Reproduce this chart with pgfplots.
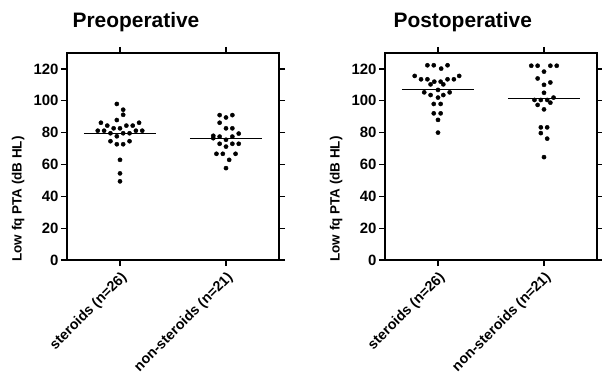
\documentclass[border=0pt]{standalone}
\usepackage{fontspec}
\setmainfont{Liberation Sans}
\usepackage{pgfplots}
\pgfplotsset{compat=1.18}
\pgfplotsset{
 dotaxis/.style={
  scale only axis, width=212bp, height=207bp,
  xmin=0.5, xmax=2.5, ymin=0, ymax=130,
  xtick={1,2}, xticklabels={steroids (n=26), non-steroids (n=21)},
  ytick={0,20,...,120},
  tick align=outside, xtick pos=both, ytick pos=both,
  xticklabel pos=lower, yticklabel pos=left,
  major tick length=6bp,
  axis line style={line width=1.3bp},
  every tick/.style={black, line width=1.3bp},
  /pgf/number format/assume math mode=true,
  y tick label style={font=\fontsize{15}{17}\selectfont\bfseries, xshift=1bp},
  x tick label style={rotate=45, anchor=north east, font=\fontsize{14.3}{16}\selectfont\bfseries},
  ylabel={Low fq PTA (dB HL)},
  ylabel style={at={(axis description cs:-0.23,0.295)}, anchor=center, font=\fontsize{13.5}{15}\selectfont\bfseries},
  title style={anchor=base west, font=\fontsize{21}{24}\selectfont\bfseries},
  clip=false,
 },
 dots/.style={only marks, mark=*, mark size=2.1bp, black},
 mline/.style={no markers, black, line width=1.5bp},
}
\begin{document}
\begin{tikzpicture}
\path[use as bounding box] (0,0) rectangle (602bp,388bp);
\begin{axis}[dotaxis, at={(67bp,128bp)}, anchor=south west,
  title={Preoperative}, title style={at={(axis description cs:0.01,1.095)}}]
\addplot[dots] coordinates {
(0.97,98) (1.03,94.4) (1.03,91.2) (0.97,87.9) (0.82,86.2) (1.18,86.2)
(0.88,84.4) (1.06,84.4) (1.12,84.4) (0.94,82.7) (1.0,82.7)
(0.79,81.2) (0.85,81.2) (1.15,81.2) (1.21,81.2)
(0.91,79.6) (1.03,79.6) (1.09,79.6) (0.97,77.7)
(0.91,74.6) (1.09,74.6) (0.97,72.7) (1.03,72.7)
(1.0,62.9) (1.0,54.4) (1.0,49.4)};
\addplot[dots] coordinates {
(1.94,91) (2.06,91) (2.0,89.5) (1.94,86.2) (2.0,82.7) (2.06,82.7)
(2.12,79.4) (1.88,78) (1.88,76.5) (1.94,77.5) (2.06,77.5) (2.0,75.5)
(1.94,73) (2.06,73) (2.12,73) (2.0,71.2)
(1.91,66.7) (1.97,66.7) (2.09,66.7) (2.03,62.9) (2.0,57.7)};
\addplot[mline] coordinates {(0.66,79.5) (1.34,79.5)};
\addplot[mline] coordinates {(1.66,76.3) (2.34,76.3)};
\end{axis}
\begin{axis}[dotaxis, at={(385bp,128bp)}, anchor=south west,
  title={Postoperative}, title style={at={(axis description cs:0.024,1.095)}}]
\addplot[dots] coordinates {
(0.90,122.3) (0.96,122.3) (1.03,120.2) (1.09,122.3)
(0.78,115.6) (1.20,115.6)
(0.84,113.5) (0.90,113.5) (1.09,113.5) (1.15,113.5)
(0.965,112) (1.025,112) (0.93,110.3) (1.05,110.3)
(1.0,106.8) (0.87,105.3) (1.11,105.3) (0.93,103.6) (1.05,103.6) (1.0,102)
(0.96,98) (1.025,98) (0.96,92.1) (1.025,92.1) (1.0,88) (1.0,80)};
\addplot[dots] coordinates {
(1.88,122) (1.94,122) (2.06,122) (2.12,122) (2.0,118.3)
(1.94,114) (2.06,111.5) (2.0,110) (2.0,105)
(1.91,100.5) (1.97,100.5) (2.03,100.5) (2.09,102)
(1.94,97.4) (2.06,98.8) (2.0,94.6)
(1.97,83.3) (2.03,83.3) (1.97,79.7) (2.03,76.2) (2.0,64.6)};
\addplot[mline] coordinates {(0.66,107.2) (1.34,107.2)};
\addplot[mline] coordinates {(1.66,101.3) (2.34,101.3)};
\end{axis}
\end{tikzpicture}
\end{document}
